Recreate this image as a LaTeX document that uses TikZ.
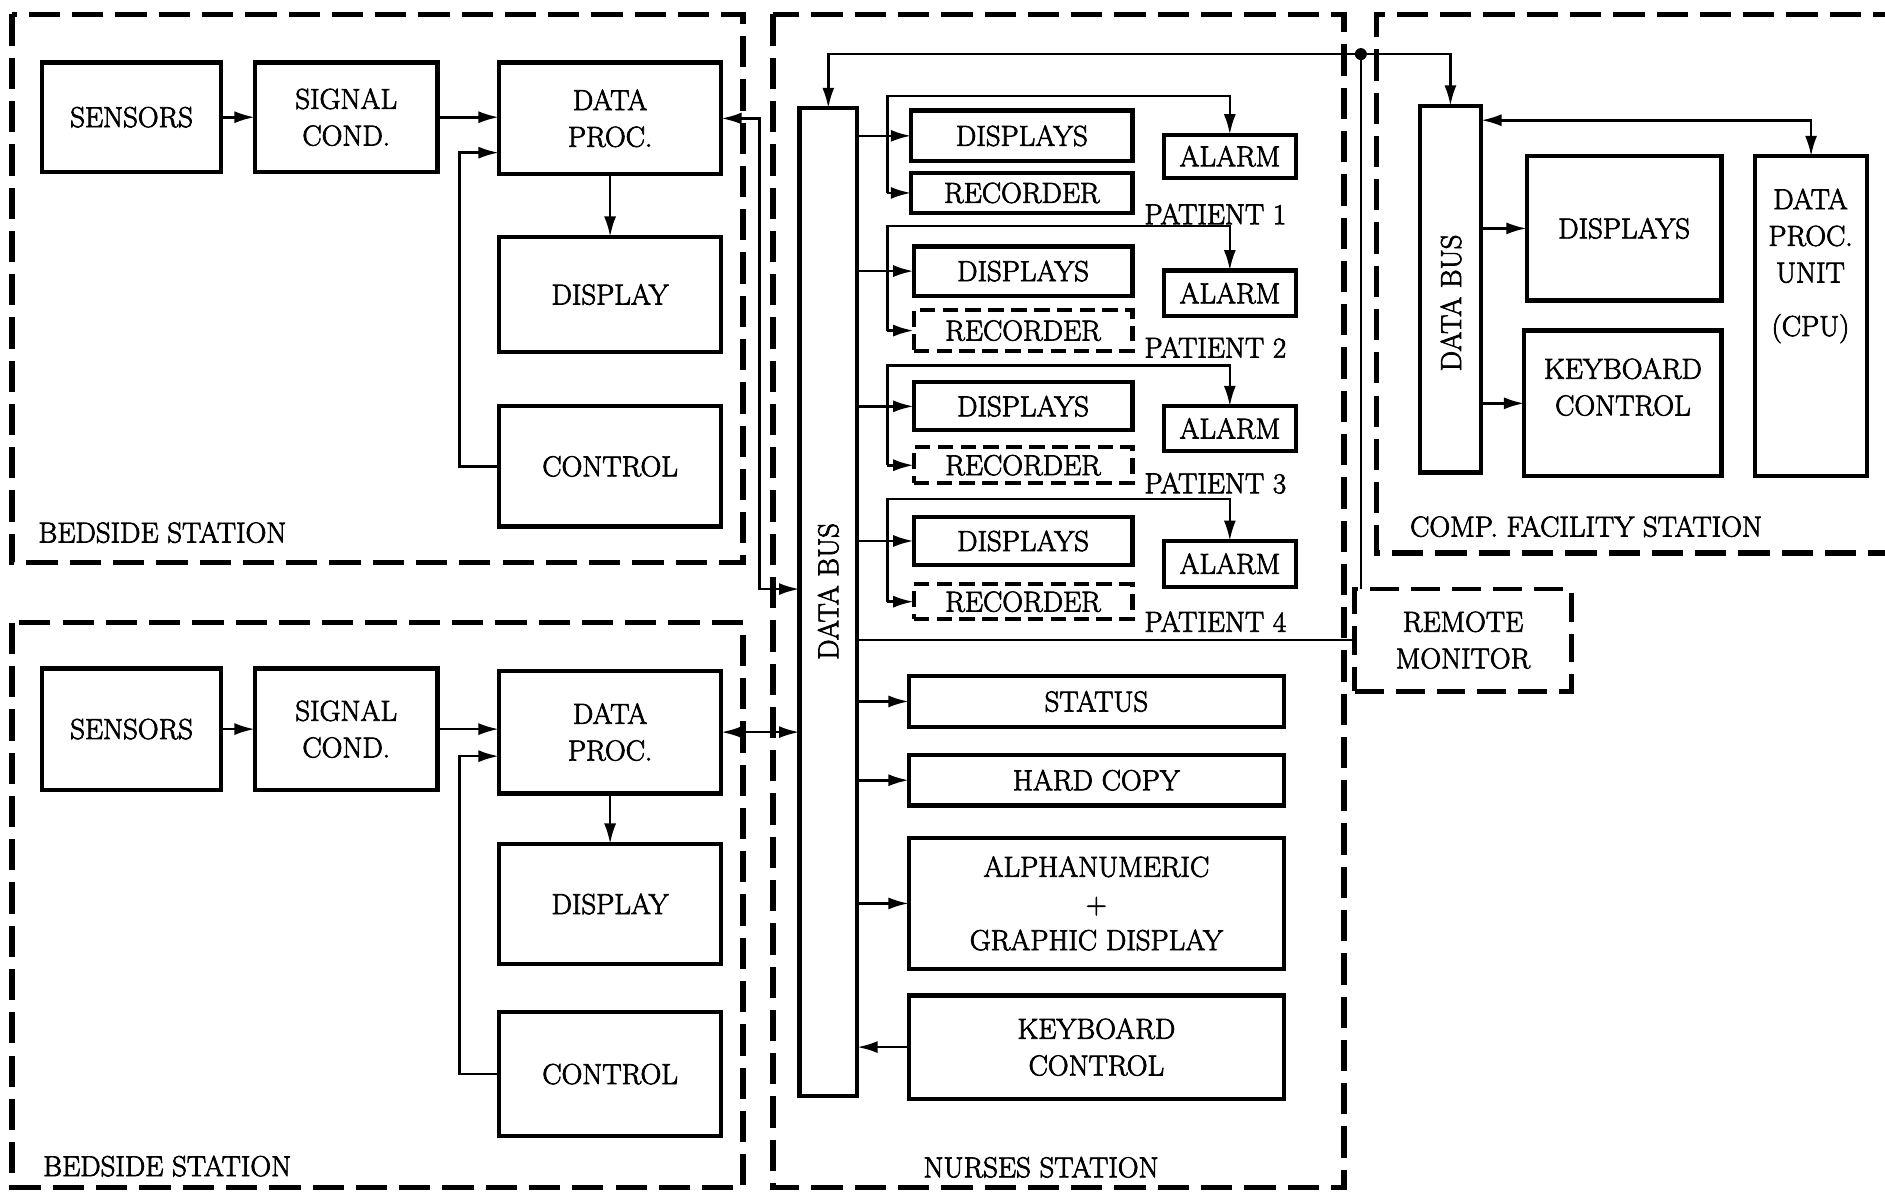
\documentclass[tikz,border=0pt]{standalone}
\usepackage{fontspec}
\newfontfamily\heavylm{Latin Modern Roman}[FakeBold=2.5]
\usetikzlibrary{arrows.meta}
\newcommand\mkbox[7][blk]{\node[#1, minimum width={(#5-#3)*1pt}, minimum height={(#6-#4)*1pt}] (#2) at ({(#3+#5)/2},{(#4+#6)/2}) {#7};}
\begin{document}
\begin{tikzpicture}[x=1pt,y=-1pt,
  every node/.style={font=\heavylm\fontsize{24}{30.5}\selectfont, inner sep=0pt, outer sep=0pt, align=center},
  blk/.style={draw, line width=3.5pt},
  dblk/.style={draw, line width=3.5pt, dash pattern=on 13pt off 6pt},
  dframe/.style={draw, line width=4pt, dash pattern=on 24pt off 10pt},
  frame/.style={line width=4.5pt, dash pattern=on 26pt off 10pt},
  conn/.style={line width=2.2pt},
  arr/.style={conn, -{Latex[length=17pt,width=10pt]}},
  barr/.style={conn, {Latex[length=17pt,width=10pt]}-{Latex[length=17pt,width=10pt]}}]
\clip (0,0) rectangle (1568,992);
\fill[white] (0,0) rectangle (1568,992);
% frames
\draw[frame] (10,12) rectangle (618,468);
\draw[frame] (10,518) rectangle (618,988);
\draw[frame] (643,12) rectangle (1118,988);
\draw[frame] (1620,12) -- (1145,12) -- (1145,460) -- (1620,460);
\node[anchor=west] (lb1) at (32,443) {BEDSIDE STATION};
\node[anchor=west] (lb2) at (36,970) {BEDSIDE STATION};
\node (lb3) at (866,971) {NURSES STATION};
\node[anchor=west] (lb4) at (1173,438) {COMP. FACILITY STATION};
% bedside top
\mkbox{sen1}{35}{52}{184}{143}{SENSORS}
\mkbox{sig1}{212}{52}{364}{143}{SIGNAL\\COND.}
\mkbox{dp1}{415}{52}{600}{145}{DATA\\PROC.}
\mkbox{dis1}{415}{197}{600}{293}{DISPLAY}
\mkbox{ctl1}{415}{338}{600}{438}{CONTROL}
% bedside bottom
\mkbox{sen2}{35}{556}{184}{657}{SENSORS}
\mkbox{sig2}{212}{556}{364}{657}{SIGNAL\\COND.}
\mkbox{dp2}{415}{558}{600}{660}{DATA\\PROC.}
\mkbox{dis2}{415}{702}{600}{802}{DISPLAY}
\mkbox{ctl2}{415}{842}{600}{945}{CONTROL}
% nurses
\mkbox{nbus}{665}{90}{713}{912}{}
\node[rotate=90] (nbt) at (689,492) {DATA BUS};
\mkbox{d1}{758}{92}{942}{134}{DISPLAYS}
\mkbox{r1}{758}{144}{942}{177}{RECORDER}
\mkbox{a1}{968}{112}{1078}{148}{ALARM}
\mkbox{d2}{760}{205}{942}{246}{DISPLAYS}
\mkbox[dblk]{r2}{760}{258}{942}{292}{RECORDER}
\mkbox{a2}{968}{225}{1078}{263}{ALARM}
\mkbox{d3}{760}{318}{942}{358}{DISPLAYS}
\mkbox[dblk]{r3}{760}{372}{942}{402}{RECORDER}
\mkbox{a3}{968}{338}{1078}{375}{ALARM}
\mkbox{d4}{760}{430}{942}{470}{DISPLAYS}
\mkbox[dblk]{r4}{760}{486}{942}{515}{RECORDER}
\mkbox{a4}{968}{450}{1078}{488}{ALARM}
\node[anchor=west] (p1) at (952,178) {PATIENT 1};
\node[anchor=west] (p2) at (952,289) {PATIENT 2};
\node[anchor=west] (p3) at (952,402) {PATIENT 3};
\node[anchor=west] (p4) at (952,517) {PATIENT 4};
\mkbox{st}{756}{562}{1068}{605}{STATUS}
\mkbox{hc}{756}{628}{1068}{670}{HARD COPY}
\mkbox{ag}{756}{697}{1068}{806}{ALPHANUMERIC\\+\\GRAPHIC DISPLAY}
\mkbox{kb}{756}{828}{1068}{914}{KEYBOARD\\CONTROL}
\mkbox[dframe]{rm}{1127}{490}{1307}{575}{REMOTE\\MONITOR}
% comp facility
\mkbox{cbus}{1181}{88}{1232}{393}{}
\node[rotate=90] (cbt) at (1207,252) {DATA BUS};
\mkbox{cdis}{1270}{130}{1432}{250}{DISPLAYS}
\mkbox{ckb}{1268}{275}{1432}{396}{}
\node (ckbt) at (1350,322) {KEYBOARD\\CONTROL};
\mkbox{cpu}{1460}{130}{1553}{396}{}
\node[anchor=north] (cput) at (1506,157) {DATA\\PROC.\\UNIT\\[14pt](CPU)};
% connectors bedside top
\draw[arr] (sen1.east) -- (sig1.west);
\draw[arr] (sig1.east) -- (sig1.east -| dp1.west);
\coordinate (k1) at (382,127);
\draw[arr] (ctl1.west) -| (k1) -- (k1 -| dp1.west);
\draw[arr] (dp1.south) -- (dis1.north);
\coordinate (j1) at (632,490);
\draw[barr] (dp1.east) -| (j1) -- (j1 -| nbus.west);
% bedside bottom
\draw[arr] (sen2.east) -- (sig2.west);
\draw[arr] (sig2.east) -- (sig2.east -| dp2.west);
\coordinate (k2) at (382,629);
\draw[arr] (ctl2.west) -| (k2) -- (k2 -| dp2.west);
\draw[arr] (dp2.south) -- (dis2.north);
\draw[barr] (dp2.east) -- (dp2.east -| nbus.west);
% patients
\coordinate (t1) at (738,80);
\coordinate (t2) at (738,188);
\coordinate (t3) at (738,304);
\coordinate (t4) at (738,415);
\foreach \i in {1,2,3,4}{
  \draw[arr] (nbus.east |- d\i.west) -- (d\i.west);
  \draw[arr] (r\i.west -| t\i) -- (r\i.west);
  \draw[arr] (r\i.west -| t\i) -- (t\i) -| (a\i.north);
}
\draw[arr] (nbus.east |- st.west) -- (st.west);
\draw[arr] (nbus.east |- hc.west) -- (hc.west);
\draw[arr] (nbus.east |- ag.west) -- (ag.west);
\draw[arr] (kb.west) -- (kb.west -| nbus.east);
% top bus link
\coordinate (dot) at (1132,45);
\draw[arr] (dot) -| (nbus.north);
\draw[arr] (dot) -| (cbus.north);
\draw[conn] (dot) -- (dot |- rm.north);
\fill (dot) circle (5);
\draw[conn] (nbus.east |- rm.west) -- (rm.west);
% comp connectors
\draw[arr] (cbus.east |- cdis.west) -- (cdis.west);
\draw[arr] (cbus.east |- ckb.west) -- (ckb.west);
\coordinate (c100) at (1232,100);
\draw[barr] (cbus.east |- c100) -| (cpu.north);
\end{tikzpicture}
\end{document}
